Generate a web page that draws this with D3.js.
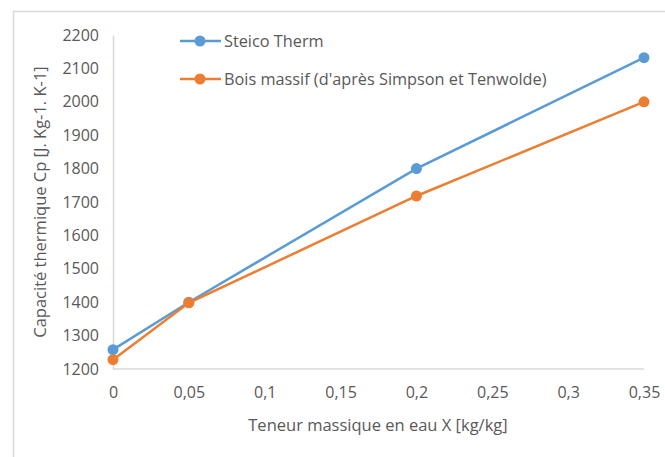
<!DOCTYPE html>
<html>
<head>
<meta charset="utf-8">
<script src="https://cdn.jsdelivr.net/npm/d3@7"></script>
<style>
  body { margin: 0; background: #fff; }
  svg { display: block; font-family: "Open Sans", "Liberation Sans", sans-serif; }
</style>
</head>
<body>
<div id="chart"></div>
<script>
const xTicks = [0, 0.05, 0.1, 0.15, 0.2, 0.25, 0.3, 0.35];
const yTicks = [1200, 1300, 1400, 1500, 1600, 1700, 1800, 1900, 2000, 2100, 2200];
const teneur = [0, 0.05, 0.2, 0.35];
const steico = [1258, 1400, 1800, 2132];
const boisMassif = [1228, 1398, 1718, 2000];
const seriesNames = ['Steico Therm', "Bois massif (d'après Simpson et Tenwolde)"];
const seriesColors = ['#5B9BD5', '#ED7D31'];

const width = 665;
const height = 457;
const usableArea = { left: 113, right: 644, top: 35, bottom: 369 };

const svg = d3.select('#chart').append('svg')
    .attr('width', width)
    .attr('height', height);

// chart frame
svg.append('rect')
    .attr('x', 13.5).attr('y', 11.5)
    .attr('width', 700).attr('height', 500)
    .attr('fill', 'none')
    .attr('stroke', '#d9d9d9')
    .attr('stroke-width', 1.5);

const xScale = d3.scaleLinear()
    .domain([0, 0.35])
    .range([usableArea.left, usableArea.right]);

const yScale = d3.scaleLinear()
    .domain([1200, 2200])
    .range([usableArea.bottom, usableArea.top]);

const fmt = (d) => String(+d.toFixed(2)).replace('.', ',');

// axes
const xAxis = svg.append('g')
    .attr('transform', `translate(0, ${usableArea.bottom})`)
    .call(d3.axisBottom(xScale).tickValues(xTicks).tickSize(0).tickPadding(18).tickFormat(fmt));

const yAxis = svg.append('g')
    .attr('transform', `translate(${usableArea.left}, 0)`)
    .call(d3.axisLeft(yScale).tickValues(yTicks).tickSize(0).tickPadding(14).tickFormat(d3.format('d')));

[xAxis, yAxis].forEach((g) => {
    g.select('.domain').attr('stroke', '#d9d9d9').attr('stroke-width', 1.5);
    g.selectAll('text').attr('fill', '#595959').style('font-size', '16px')
        .style('font-family', '"Open Sans", sans-serif');
});
xAxis.select('.domain').attr('d', `M${usableArea.left},0H${usableArea.right}`);

// axis titles
svg.append('text')
    .attr('x', 378)
    .attr('y', 431)
    .attr('text-anchor', 'middle')
    .attr('fill', '#595959')
    .style('font-size', '16.5px')
    .text('Teneur massique en eau X [kg/kg]');

svg.append('text')
    .attr('transform', `translate(46, 202) rotate(-90)`)
    .attr('text-anchor', 'middle')
    .attr('fill', '#595959')
    .style('font-size', '16.5px')
    .text('Capacité thermique Cp [J. Kg-1. K-1]');

// series
const series = [steico, boisMassif].map((values, i) => ({
    name: seriesNames[i],
    color: seriesColors[i],
    points: values.map((v, j) => ({ x: teneur[j], y: v })),
}));

const line = d3.line().x((d) => xScale(d.x)).y((d) => yScale(d.y));

series.forEach((s) => {
    const g = svg.append('g');
    g.append('path')
        .attr('d', line(s.points))
        .attr('fill', 'none')
        .attr('stroke', s.color)
        .attr('stroke-width', 2.5);
    g.selectAll('circle')
        .data(s.points)
        .join('circle')
        .attr('cx', (d) => xScale(d.x))
        .attr('cy', (d) => yScale(d.y))
        .attr('r', 5.5)
        .attr('fill', s.color);
});

// legend
const legend = svg.append('g').attr('transform', 'translate(180, 41)');
series.forEach((s, i) => {
    const item = legend.append('g').attr('transform', `translate(0, ${i * 38})`);
    item.append('line')
        .attr('x1', 0).attr('x2', 41)
        .attr('stroke', s.color).attr('stroke-width', 2.5);
    item.append('circle').attr('cx', 20).attr('r', 5.5).attr('fill', s.color);
    item.append('text')
        .attr('x', 44).attr('dy', '0.35em')
        .attr('fill', '#595959')
        .style('font-size', '16.3px')
        .text(s.name);
});
</script>
</body>
</html>
